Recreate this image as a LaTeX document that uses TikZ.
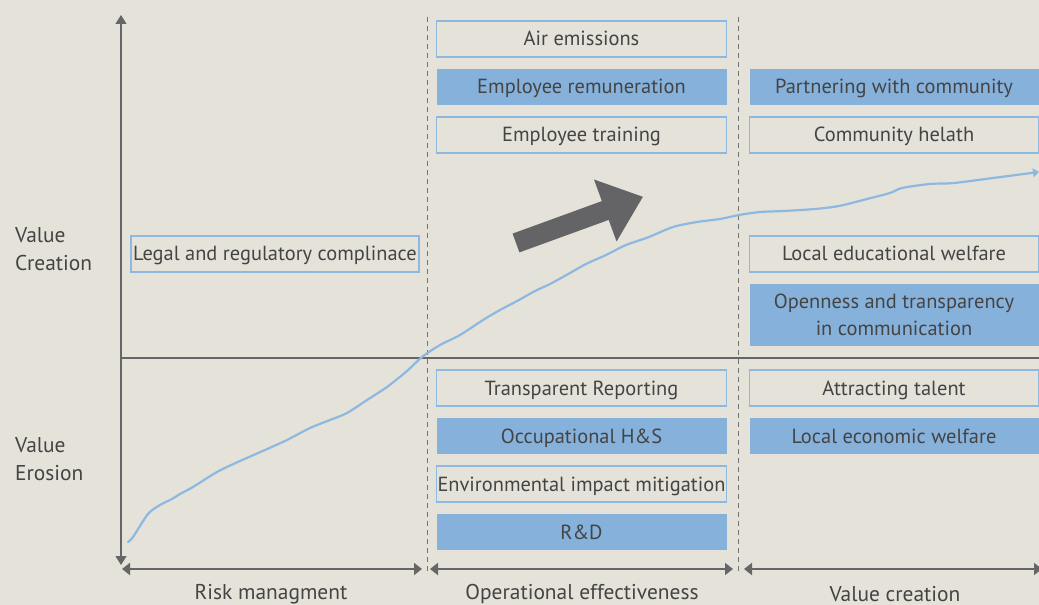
\documentclass[tikz,border=0pt]{standalone}
\usepackage{fontspec}
\setmainfont{PT Sans}
\usetikzlibrary{arrows.meta}
\definecolor{bg}{HTML}{E5E2D9}
\definecolor{axisgray}{HTML}{666666}
\definecolor{boxblue}{HTML}{86B1DB}
\definecolor{lineblue}{HTML}{8DB8E0}
\definecolor{txt}{HTML}{444444}
\definecolor{arrowgray}{HTML}{646467}
\tikzset{
  base/.style={minimum height=36bp, inner sep=0pt, align=center, text=txt, font=\fontsize{20.5}{27}\selectfont},
  one/.style={text height=17bp, text depth=3bp},
  obox/.style={base, draw=lineblue, line width=1.1bp},
  fbox/.style={base, fill=boxblue},
  midcol/.style={minimum width=290bp},
  rcol/.style={minimum width=289bp},
  lbl/.style={text=txt, font=\fontsize{21.5}{28}\selectfont, inner sep=0pt},
  divider/.style={draw=gray!90!black, line width=0.9bp, dash pattern=on 5bp off 4bp},
  axis/.style={draw=axisgray, line width=1.2bp},
  span/.style={draw=axisgray, line width=2.6bp, {Triangle[width=12bp,length=8bp]}-{Triangle[width=12bp,length=8bp]}},
}
\begin{document}
\begin{tikzpicture}[x=1bp,y=-1bp]
\fill[bg] (0,0) rectangle (1039,605);
\useasboundingbox (0,0) rectangle (1039,605);

% dividers
\draw[divider] (427,17) -- (427,575);
\draw[divider] (738,17) -- (738,575);

% axes
\coordinate (ytop) at (121,15);
\coordinate (ybot) at (121,565);
\coordinate (xl) at (121,358);
\coordinate (xr) at (1039,358);
\draw[axis, {Triangle[width=11bp,length=9bp]}-{Triangle[width=11bp,length=9bp]}] (ybot) -- (ytop);
\draw[axis] (xl) -- (xr);

% bottom spans
\coordinate (a1) at (122,569); \coordinate (a2) at (422,569);
\coordinate (b1) at (430,569); \coordinate (b2) at (733,569);
\coordinate (c1) at (744,569); \coordinate (c2) at (1042,569);
\draw[span] (a1) -- (a2);
\draw[span] (b1) -- (b2);
\draw[span] (c1) -- (c2);
\node[lbl] (risk) at (271,594) {Risk managment};
\node[lbl] (oper) at (582,594) {Operational effectiveness};
\node[lbl] (valc) at (895,594) {Value creation};

% side labels
\node[lbl, anchor=west, align=left] (vcr) at (15,249) {Value\\Creation};
\node[lbl, anchor=west, align=left] (ver) at (15,459) {Value\\Erosion};

% growth curve
\draw[lineblue, line width=2.2bp, line cap=round, line join=round, -{Triangle[width=9bp,length=6bp]}]
  plot[smooth, tension=0.5] coordinates {
  (128,542) (133,537) (148,514) (160,505) (172,499) (180,494) (193,487)
  (217,472) (240,461) (265,450) (287,440) (310,428) (330,420) (347,413)
  (367,400) (387,387) (407,371) (422,357) (440,345) (460,335) (483,320)
  (500,310) (519,300) (535,291) (550,284) (570,273) (586,264) (606,255)
  (626,245) (649,237) (673,227) (697,222) (720,219) (739,215) (760,212)
  (784,211) (815,209) (839,206) (867,199) (890,193) (902,188) (930,184)
  (954,183) (993,178) (1039,172)};

% big arrow
\begin{scope}[shift={(516,243)}, rotate=20]
\fill[arrowgray] (0,-10) -- (95,-10) -- (95,-33) -- (135,0) -- (95,33) -- (95,10) -- (0,10) -- cycle;
\end{scope}

% boxes middle column
\node[obox, one, midcol] (air) at (581.5,39) {Air emissions};
\node[fbox, one, midcol] (remun) at (581.5,87) {Employee remuneration};
\node[obox, one, midcol] (train) at (581.5,135) {Employee training};
\node[obox, one, midcol] (transp) at (581.5,388) {Transparent Reporting};
\node[fbox, one, midcol] (ohs) at (581.5,436) {Occupational H\&S};
\node[obox, one, midcol] (env) at (581.5,484) {Environmental impact mitigation};
\node[fbox, one, midcol] (rd) at (581.5,532) {R\&D};

% right column
\node[fbox, one, rcol] (partner) at (894,87) {Partnering with community};
\node[obox, one, rcol] (health) at (894,135) {Community helath};
\node[obox, one, rcol] (edu) at (894,254) {Local educational welfare};
\node[fbox, rcol, minimum height=62bp] (open) at (894,315) {Openness and transparency\\in communication};
\node[obox, one, rcol] (talent) at (894,388) {Attracting talent};
\node[fbox, one, rcol] (econ) at (894,436) {Local economic welfare};

% left
\node[obox, one, minimum width=288bp] (legal) at (275,254) {Legal and regulatory complinace};
\end{tikzpicture}
\end{document}
